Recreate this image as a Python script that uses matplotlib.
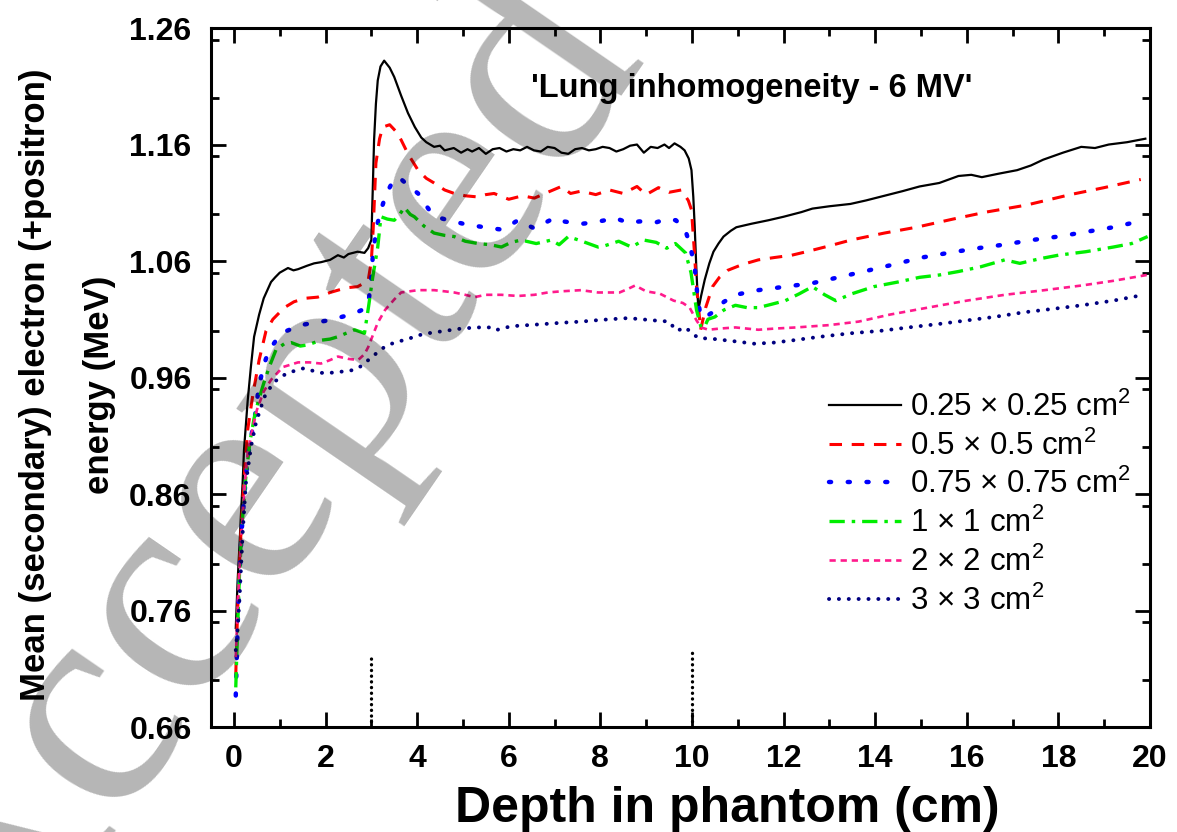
import matplotlib
matplotlib.use("Agg")
import matplotlib.pyplot as plt
from matplotlib.ticker import MultipleLocator

plt.rcParams['font.family'] = ['Liberation Sans', 'DejaVu Sans']
plt.rcParams['lines.scale_dashes'] = False
plt.rcParams['mathtext.fontset'] = 'custom'
plt.rcParams['mathtext.rm'] = 'Liberation Sans'

# depth (cm) / mean energy (MeV), one pair of lists per field size
depth_025 = [0.04, 0.08, 0.12, 0.15, 0.19, 0.22, 0.30, 0.37, 0.44, 0.55, 0.65, 0.81, 0.90, 1.0, 1.18,
             1.3, 1.4, 1.6, 1.75, 1.9, 2.1, 2.27, 2.4, 2.5, 2.7, 2.85, 2.93, 3.0, 3.03, 3.06,
             3.1, 3.14, 3.2, 3.28, 3.4, 3.5, 3.65, 3.8, 3.95, 4.09, 4.2, 4.37, 4.5, 4.6, 4.8,
             4.96, 5.1, 5.2, 5.35, 5.5, 5.65, 5.8, 5.95, 6.1, 6.25, 6.4, 6.55, 6.7, 6.85, 7.0,
             7.15, 7.3, 7.45, 7.6, 7.75, 7.9, 8.05, 8.2, 8.35, 8.5, 8.65, 8.8, 8.95, 9.1, 9.25,
             9.4, 9.5, 9.62, 9.75, 9.84, 9.93, 9.99, 10.03, 10.06, 10.1, 10.14, 10.2, 10.28, 10.38, 10.47,
             10.58, 10.69, 10.85, 10.97, 11.3, 11.67, 12.0, 12.39, 12.63, 13.0, 13.46, 13.8, 14.2, 14.6, 14.97,
             15.4, 15.82, 16.1, 16.33, 16.7, 17.1, 17.4, 17.67, 18.1, 18.5, 18.8, 19.1, 19.5, 19.9]
energy_025 = [0.745, 0.785, 0.815, 0.840, 0.870, 0.898, 0.940, 0.969, 0.995, 1.014, 1.028, 1.042, 1.046, 1.050, 1.054,
              1.052, 1.053, 1.056, 1.058, 1.059, 1.061, 1.065, 1.063, 1.066, 1.068, 1.067, 1.071, 1.078, 1.120, 1.164,
              1.195, 1.215, 1.227, 1.232, 1.226, 1.218, 1.202, 1.187, 1.175, 1.166, 1.162, 1.158, 1.159, 1.155, 1.157,
              1.153, 1.156, 1.154, 1.157, 1.152, 1.156, 1.157, 1.154, 1.156, 1.155, 1.158, 1.155, 1.154, 1.158, 1.157,
              1.153, 1.152, 1.156, 1.157, 1.155, 1.156, 1.158, 1.157, 1.154, 1.156, 1.159, 1.160, 1.153, 1.158, 1.157,
              1.160, 1.157, 1.161, 1.158, 1.155, 1.148, 1.138, 1.115, 1.090, 1.050, 1.018, 1.030, 1.044, 1.058, 1.068,
              1.075, 1.081, 1.086, 1.089, 1.092, 1.095, 1.098, 1.102, 1.105, 1.107, 1.109, 1.112, 1.116, 1.120, 1.124,
              1.127, 1.133, 1.134, 1.132, 1.135, 1.138, 1.142, 1.147, 1.153, 1.158, 1.157, 1.160, 1.162, 1.165]

depth_05 = [0.04, 0.08, 0.12, 0.17, 0.22, 0.30, 0.42, 0.55, 0.70, 0.85, 1.1, 1.31, 1.55, 1.83, 2.1,
            2.45, 2.7, 2.93, 3.0, 3.04, 3.1, 3.18, 3.25, 3.4, 3.52, 3.65, 3.8, 4.02, 4.2, 4.37,
            4.6, 4.81, 5.05, 5.33, 5.5, 5.68, 6.0, 6.3, 6.56, 6.85, 7.15, 7.35, 7.58, 7.9, 8.2,
            8.5, 8.8, 9.0, 9.27, 9.5, 9.77, 9.92, 9.99, 10.05, 10.1, 10.19, 10.3, 10.45, 10.6, 10.78,
            11.1, 11.45, 11.8, 12.18, 12.5, 13.0, 13.47, 14.2, 14.9, 15.7, 16.42, 17.3, 18.26, 19.0, 19.8]
energy_05 = [0.705, 0.760, 0.800, 0.840, 0.872, 0.915, 0.947, 0.975, 1.000, 1.010, 1.020, 1.025, 1.028, 1.029, 1.033,
             1.037, 1.038, 1.043, 1.060, 1.087, 1.144, 1.165, 1.175, 1.177, 1.172, 1.164, 1.152, 1.138, 1.131, 1.127,
             1.121, 1.118, 1.116, 1.115, 1.117, 1.118, 1.113, 1.116, 1.114, 1.119, 1.124, 1.118, 1.120, 1.117, 1.121,
             1.118, 1.124, 1.117, 1.123, 1.119, 1.121, 1.112, 1.104, 1.070, 1.038, 1.001, 1.020, 1.038, 1.046, 1.052,
             1.057, 1.061, 1.063, 1.065, 1.068, 1.073, 1.078, 1.084, 1.089, 1.096, 1.102, 1.108, 1.117, 1.123, 1.130]

depth_075 = [0.04, 0.08, 0.12, 0.18, 0.26, 0.35, 0.44, 0.53, 0.63, 0.75, 0.92, 1.15, 1.46, 1.75, 2.05,
             2.35, 2.63, 2.85, 2.93, 3.0, 3.04, 3.14, 3.22, 3.32, 3.45, 3.6, 3.8, 4.02, 4.15, 4.3,
             4.5, 4.68, 4.9, 5.11, 5.3, 5.47, 5.65, 5.84, 6.0, 6.2, 6.4, 6.56, 6.8, 7.0, 7.2,
             7.37, 7.6, 7.84, 8.1, 8.31, 8.6, 8.86, 9.2, 9.45, 9.65, 9.85, 9.95, 10.06, 10.12, 10.19,
             10.3, 10.45, 10.7, 10.95, 11.45, 12.04, 12.63, 13.2, 13.86, 14.4, 15.02, 15.6, 16.24, 16.8, 17.42,
             18.0, 18.6, 19.2, 19.87]
energy_075 = [0.687, 0.745, 0.790, 0.835, 0.875, 0.905, 0.921, 0.948, 0.968, 0.982, 0.992, 1.000, 1.005, 1.007, 1.009,
              1.012, 1.015, 1.019, 1.022, 1.045, 1.069, 1.093, 1.105, 1.117, 1.127, 1.132, 1.125, 1.118, 1.110, 1.102,
              1.097, 1.095, 1.093, 1.091, 1.090, 1.089, 1.088, 1.087, 1.090, 1.095, 1.091, 1.088, 1.093, 1.097, 1.094,
              1.093, 1.092, 1.093, 1.095, 1.097, 1.093, 1.094, 1.093, 1.096, 1.095, 1.087, 1.075, 1.055, 1.030, 1.012,
              1.012, 1.016, 1.025, 1.031, 1.035, 1.038, 1.041, 1.046, 1.052, 1.057, 1.063, 1.067, 1.071, 1.074, 1.078,
              1.081, 1.085, 1.089, 1.095]

depth_1 = [0.04, 0.08, 0.12, 0.18, 0.26, 0.35, 0.44, 0.52, 0.65, 0.77, 0.92, 1.1, 1.25, 1.45, 1.61,
           1.9, 2.1, 2.27, 2.45, 2.63, 2.85, 2.94, 3.03, 3.14, 3.21, 3.35, 3.5, 3.62, 3.72, 3.85,
           3.94, 4.15, 4.37, 4.6, 4.81, 5.05, 5.33, 5.6, 5.84, 6.05, 6.27, 6.6, 6.93, 7.1, 7.3,
           7.6, 7.95, 8.09, 8.4, 8.68, 8.95, 9.22, 9.45, 9.64, 9.86, 9.98, 10.1, 10.2, 10.27, 10.35,
           10.5, 10.7, 10.95, 11.2, 11.45, 11.75, 12.04, 12.35, 12.63, 12.9, 13.14, 13.5, 13.97, 14.5, 14.97,
           15.4, 15.82, 16.3, 16.83, 17.16, 17.6, 18.0, 18.6, 19.2, 19.6, 19.95]
energy_1 = [0.694, 0.745, 0.790, 0.835, 0.875, 0.905, 0.925, 0.938, 0.955, 0.969, 0.984, 0.989, 0.990, 0.987, 0.988,
            0.992, 0.993, 0.995, 0.998, 1.001, 0.998, 1.021, 1.046, 1.072, 1.098, 1.096, 1.095, 1.100, 1.106, 1.100,
            1.098, 1.090, 1.084, 1.082, 1.081, 1.077, 1.075, 1.074, 1.072, 1.076, 1.078, 1.075, 1.078, 1.074, 1.081,
            1.077, 1.072, 1.073, 1.077, 1.072, 1.078, 1.076, 1.071, 1.075, 1.067, 1.050, 1.018, 1.003, 1.003, 1.010,
            1.012, 1.018, 1.022, 1.020, 1.020, 1.023, 1.026, 1.032, 1.038, 1.031, 1.026, 1.032, 1.038, 1.042, 1.046,
            1.048, 1.051, 1.055, 1.061, 1.058, 1.062, 1.065, 1.068, 1.072, 1.075, 1.081]

depth_2 = [0.04, 0.08, 0.12, 0.18, 0.24, 0.30, 0.40, 0.50, 0.65, 0.81, 1.07, 1.4, 1.65, 1.9, 2.1,
           2.27, 2.5, 2.71, 2.85, 2.93, 3.05, 3.14, 3.3, 3.5, 3.65, 4.02, 4.37, 4.6, 4.81, 5.05,
           5.25, 5.5, 5.84, 6.2, 6.56, 6.85, 7.15, 7.58, 7.95, 8.42, 8.6, 8.76, 9.0, 9.3, 9.6,
           9.8, 9.95, 10.1, 10.2, 10.36, 10.6, 10.95, 11.2, 11.45, 11.8, 12.28, 13.0, 13.64, 14.32, 15.15,
           16.0, 16.83, 17.7, 18.51, 19.2, 19.93]
energy_2 = [0.720, 0.760, 0.795, 0.835, 0.870, 0.895, 0.915, 0.932, 0.948, 0.958, 0.969, 0.973, 0.973, 0.972, 0.975,
            0.978, 0.976, 0.975, 0.980, 0.986, 0.998, 1.007, 1.018, 1.027, 1.033, 1.035, 1.035, 1.034, 1.033, 1.031,
            1.029, 1.031, 1.031, 1.030, 1.031, 1.033, 1.034, 1.035, 1.033, 1.033, 1.036, 1.039, 1.034, 1.032, 1.026,
            1.024, 1.020, 1.009, 1.003, 1.001, 1.002, 1.003, 1.002, 1.001, 1.002, 1.003, 1.005, 1.008, 1.014, 1.020,
            1.026, 1.031, 1.035, 1.039, 1.043, 1.048]

depth_3 = [0.04, 0.08, 0.12, 0.19, 0.26, 0.37, 0.48, 0.66, 0.85, 1.0, 1.18, 1.35, 1.53, 1.7, 1.9,
           2.1, 2.34, 2.55, 2.71, 2.85, 2.99, 3.15, 3.28, 3.5, 3.8, 4.0, 4.24, 4.6, 4.96, 5.3,
           5.68, 5.75, 6.05, 6.43, 6.8, 7.15, 7.58, 7.87, 8.2, 8.61, 8.9, 9.18, 9.51, 9.6, 9.68,
           9.78, 9.86, 10.0, 10.14, 10.5, 10.95, 11.37, 11.8, 12.22, 12.8, 13.47, 14.1, 14.73, 15.4, 16.0,
           16.6, 17.25, 17.9, 18.51, 19.2, 19.87]
energy_3 = [0.726, 0.745, 0.769, 0.826, 0.869, 0.900, 0.921, 0.943, 0.955, 0.960, 0.964, 0.966, 0.968, 0.966, 0.964,
            0.964, 0.965, 0.966, 0.968, 0.972, 0.977, 0.982, 0.986, 0.990, 0.993, 0.996, 0.998, 1.000, 1.002, 1.003,
            1.003, 1.001, 1.004, 1.005, 1.006, 1.007, 1.008, 1.009, 1.010, 1.011, 1.010, 1.009, 1.008, 1.003, 1.000,
            1.002, 1.003, 0.998, 0.994, 0.993, 0.991, 0.989, 0.990, 0.992, 0.995, 0.998, 1.000, 1.003, 1.006, 1.009,
            1.012, 1.016, 1.019, 1.022, 1.026, 1.031]

labels = ['0.25 × 0.25 cm$^2$', '0.5 × 0.5 cm$^2$', '0.75 × 0.75 cm$^2$',
          '1 × 1 cm$^2$', '2 × 2 cm$^2$', '3 × 3 cm$^2$']

# lung slab boundaries
boundary_depths = [3, 10]
boundary_tops = [0.72, 0.725]

y_ticks = [0.66, 0.76, 0.86, 0.96, 1.06, 1.16, 1.26]
x_ticks = [0, 2, 4, 6, 8, 10, 12, 14, 16, 18, 20]

fig = plt.figure(figsize=(11.77, 8.32), dpi=100)
ax = fig.add_axes([0.1793, 0.1262, 0.7977, 0.8401])

ax.plot(depth_025, energy_025, color='black', lw=1.6, label=labels[0])
ax.plot(depth_05, energy_05, color='#ff0000', lw=2.2, dashes=(9, 7), label=labels[1])
ax.plot(depth_075, energy_075, color='#0000ff', lw=3.2, dashes=(1.5, 12),
        dash_capstyle='round', label=labels[2])
ax.plot(depth_1, energy_1, color='#00ee00', lw=2.4, dashes=(11, 5, 2.5, 5), label=labels[3])
ax.plot(depth_2, energy_2, color='#ff1a8c', lw=1.9, dashes=(4.5, 3.5), label=labels[4])
ax.plot(depth_3, energy_3, color='#000080', lw=2.8, dashes=(0.1, 7),
        dash_capstyle='round', label=labels[5])

ax.set_xlim(-0.5, 20)
ax.set_ylim(0.66, 1.26)
ax.vlines(boundary_depths, ax.get_ylim()[0], boundary_tops, colors='black',
          lw=2.4, linestyles=(0, (0.1, 4)), capstyle='round')

ax.set_xticks(x_ticks)
ax.set_yticks(y_ticks)
ax.xaxis.set_minor_locator(MultipleLocator(1))
ax.yaxis.set_minor_locator(MultipleLocator(0.05))
ax.tick_params(which='both', direction='in', top=True, right=True, width=2)
ax.tick_params(which='major', length=11)
ax.tick_params(which='minor', length=6)
ax.tick_params(axis='y', pad=14, labelsize=23)
ax.tick_params(axis='x', pad=12, labelsize=23)
for lbl in ax.get_xticklabels() + ax.get_yticklabels():
    lbl.set_fontweight('bold')
for sp in ax.spines.values():
    sp.set_linewidth(2.2)

ax.set_xlabel('Depth in phantom (cm)', fontsize=36, fontweight='bold')
ax.xaxis.set_label_coords(0.55, -0.084)
ax.set_ylabel('Mean (secondary) electron (+positron)\nenergy (MeV)',
              fontsize=25, fontweight='bold', linespacing=2.2)
ax.yaxis.set_label_coords(-0.101, 0.49)

ax.text(11.3, 1.2008, "'Lung inhomogeneity - 6 MV'", fontsize=23.5,
        fontweight='bold', ha='center', va='baseline')

ax.legend(loc='upper left', bbox_to_anchor=(0.658, 0.48), frameon=False,
          fontsize=22.5, handlelength=2.3, handletextpad=0.3, labelspacing=0.24,
          borderpad=0, borderaxespad=0)

# "Accepted Manuscript" stamp over the page
fig.text(-0.07, -1.78, 'Accepted Manuscript', transform=fig.dpi_scale_trans,
         fontsize=220, family='Liberation Serif', color='black', alpha=0.29,
         rotation=55.5, rotation_mode='anchor', ha='left', va='baseline', zorder=10)

fig.savefig('out.png', dpi=100)
